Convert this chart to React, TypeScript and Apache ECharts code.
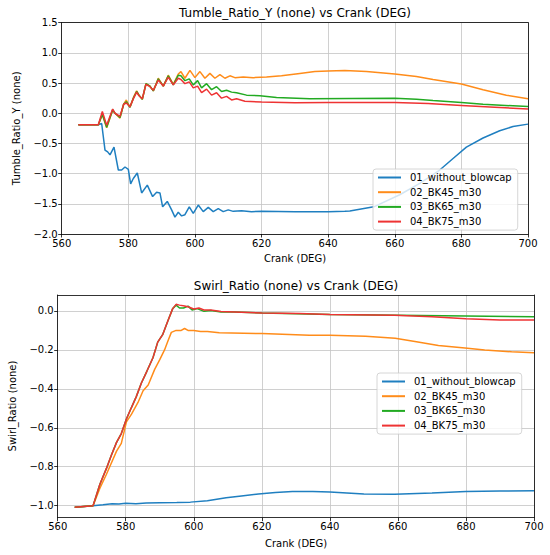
import React, { useEffect, useRef } from "react";
import * as echarts from "echarts";

const FONT = "DejaVu Sans";

const seriesNames = ["01_without_blowcap", "02_BK45_m30", "03_BK65_m30", "04_BK75_m30"];
const seriesColors = ["#1f7fc0", "#ff8c1a", "#22aa22", "#ee3333"];

const crankMin = 560;
const crankMax = 700;
const crankStep = 20;

const tumbleMin = -2.0;
const tumbleMax = 1.5;
const tumbleStep = 0.5;

const swirlMin = -1.062;
const swirlMax = 0.082;
const swirlTicks = [-1.0, -0.8, -0.6, -0.4, -0.2, 0.0];

// ---- Tumble_Ratio_Y ----
const tumbleBlueX = [565, 571, 572, 573, 573.8, 574.5, 575.7, 577, 578, 579, 580, 580.7, 581.5, 582.7, 584, 585.7, 587.3, 588.5, 589.5, 590.3, 591.7, 593, 594, 595, 596, 597, 598.3, 599.5, 601, 602.5, 604, 605.5, 607, 608.5, 610, 611.5, 614, 617, 620, 630, 640, 645, 646.5, 653.7, 661.5, 667.5, 673.5, 677.5, 681.5, 686.5, 691.5, 695.5, 700];
const tumbleBlueY = [-0.19, -0.19, -0.17, -0.61, -0.64, -0.69, -0.56, -0.94, -0.94, -0.89, -0.93, -1.17, -1.08, -0.99, -1.32, -1.19, -1.38, -1.31, -1.32, -1.55, -1.46, -1.6, -1.72, -1.64, -1.7, -1.68, -1.55, -1.66, -1.52, -1.63, -1.56, -1.63, -1.58, -1.63, -1.6, -1.625, -1.615, -1.63, -1.625, -1.63, -1.63, -1.625, -1.62, -1.55, -1.35, -1.16, -0.94, -0.75, -0.56, -0.41, -0.29, -0.22, -0.18];

const tumbleOrangeX = [565, 571, 572.2, 573.5, 575.3, 576, 577.5, 578.6, 579.4, 580.5, 581.6, 582.5, 583.2, 584.2, 585.3, 586.5, 587.5, 589, 590.5, 592, 593.5, 595, 595.8, 597, 598.5, 600, 601.5, 603, 604.5, 606, 607.5, 609, 610.5, 612, 614.5, 617.5, 621.5, 626, 631.5, 636, 640, 645, 651.5, 660, 666.5, 671.5, 680, 686.5, 693.5, 700];
const tumbleOrangeY = [-0.19, -0.19, -0.02, -0.24, 0.05, 0.0, -0.08, 0.15, 0.22, 0.1, 0.27, 0.37, 0.3, 0.23, 0.49, 0.45, 0.37, 0.58, 0.45, 0.63, 0.48, 0.65, 0.69, 0.58, 0.71, 0.59, 0.69, 0.58, 0.66, 0.58, 0.64, 0.58, 0.62, 0.59, 0.6, 0.59, 0.6, 0.62, 0.66, 0.69, 0.7, 0.71, 0.69, 0.65, 0.61, 0.56, 0.485, 0.39, 0.3, 0.24];

const tumbleGreenX = [565, 571, 572.2, 573.5, 575.3, 576, 577.5, 578.6, 579.4, 580.5, 581.6, 582.5, 583.2, 584.2, 585.3, 586.5, 587.5, 589, 590.5, 592, 593.5, 595, 595.8, 597, 598.3, 599.5, 600.8, 602, 603.5, 605, 606.5, 608, 609.5, 611, 612.5, 615.5, 619.5, 624.5, 634.5, 660, 666.5, 671.5, 680, 686.5, 700];
const tumbleGreenY = [-0.19, -0.19, -0.02, -0.23, 0.06, 0.0, -0.07, 0.15, 0.19, 0.1, 0.26, 0.36, 0.3, 0.23, 0.49, 0.45, 0.37, 0.57, 0.45, 0.62, 0.47, 0.63, 0.62, 0.54, 0.57, 0.47, 0.54, 0.42, 0.49, 0.39, 0.44, 0.36, 0.38, 0.35, 0.34, 0.3, 0.29, 0.26, 0.24, 0.25, 0.23, 0.21, 0.18, 0.15, 0.11];

const tumbleRedX = [565, 571, 572.2, 573.5, 575.3, 576, 577.5, 578.6, 579.4, 580.5, 581.6, 582.5, 583.2, 584.2, 585.3, 586.5, 587.5, 589, 590.5, 592, 593.5, 595, 595.8, 597, 598.3, 599.5, 600.8, 602, 603.5, 605, 606.5, 608, 609.5, 611, 612.5, 615, 620, 630, 640, 660, 670, 680, 690, 700];
const tumbleRedY = [-0.19, -0.19, 0.03, -0.2, 0.07, 0.0, -0.05, 0.15, 0.17, 0.11, 0.25, 0.35, 0.29, 0.24, 0.48, 0.44, 0.38, 0.55, 0.45, 0.6, 0.47, 0.58, 0.56, 0.49, 0.52, 0.42, 0.45, 0.34, 0.4, 0.3, 0.34, 0.25, 0.28, 0.22, 0.24, 0.2, 0.185, 0.175, 0.18, 0.18, 0.16, 0.13, 0.1, 0.07];

// ---- Swirl_Ratio ----
const swirlBlueX = [565, 570.4, 573.3, 576, 578, 580, 583, 586, 590, 595, 599, 604, 609.5, 614, 619, 624, 629, 635, 640, 650, 659, 670, 680, 690, 700];
const swirlBlueY = [-1.008, -1.0, -0.995, -0.99, -0.992, -0.988, -0.99, -0.986, -0.985, -0.984, -0.982, -0.975, -0.96, -0.95, -0.94, -0.933, -0.928, -0.927, -0.93, -0.94, -0.942, -0.935, -0.928, -0.925, -0.923];

const swirlOrangeX = [565, 570.4, 572.4, 574.3, 577.3, 578.7, 580.2, 581.7, 583.6, 585.1, 586.6, 588.5, 590, 591.4, 592.4, 593.4, 594.8, 596.3, 597.3, 598.3, 600, 602, 604, 607.5, 620, 634, 640, 650.5, 659.2, 665, 671.9, 679.7, 685.5, 693.4, 700];
const swirlOrangeY = [-1.008, -1.0, -0.91, -0.84, -0.72, -0.68, -0.57, -0.53, -0.47, -0.41, -0.38, -0.3, -0.25, -0.2, -0.154, -0.11, -0.1, -0.1, -0.09, -0.1, -0.1, -0.105, -0.105, -0.112, -0.116, -0.125, -0.125, -0.13, -0.14, -0.157, -0.178, -0.19, -0.2, -0.21, -0.215];

const swirlGreenX = [565, 570.4, 572.4, 574.3, 575.8, 577.3, 578.7, 580.2, 581.7, 583.1, 584.6, 586.2, 588, 589.4, 590.9, 592.4, 593.8, 594.8, 595.8, 597, 598.3, 599.5, 601, 603, 605, 608, 612, 620, 640, 660, 680, 700];
const swirlGreenY = [-1.008, -1.0, -0.89, -0.81, -0.74, -0.675, -0.63, -0.555, -0.495, -0.44, -0.37, -0.31, -0.24, -0.16, -0.12, -0.05, 0.012, 0.03, 0.015, 0.015, 0.025, 0.005, 0.012, -0.002, 0.002, -0.005, -0.005, -0.01, -0.018, -0.022, -0.026, -0.03];

const swirlRedX = [565, 570.4, 572.4, 574.3, 575.8, 577.3, 578.7, 580.2, 581.7, 583.1, 584.6, 586.2, 588, 589.4, 590.9, 592.4, 593.8, 594.8, 595.8, 597.3, 598.5, 600, 601.5, 603, 605, 608, 612, 620, 631, 640, 659, 670, 680, 690, 700];
const swirlRedY = [-1.008, -1.0, -0.89, -0.81, -0.74, -0.675, -0.63, -0.555, -0.495, -0.44, -0.37, -0.31, -0.24, -0.16, -0.12, -0.05, 0.012, 0.034, 0.03, 0.025, 0.02, 0.01, 0.015, 0.005, 0.005, -0.003, -0.005, -0.01, -0.013, -0.018, -0.022, -0.03, -0.04, -0.046, -0.047];

const tumbleXs = [tumbleBlueX, tumbleOrangeX, tumbleGreenX, tumbleRedX];
const tumbleYs = [tumbleBlueY, tumbleOrangeY, tumbleGreenY, tumbleRedY];
const swirlXs = [swirlBlueX, swirlOrangeX, swirlGreenX, swirlRedX];
const swirlYs = [swirlBlueY, swirlOrangeY, swirlGreenY, swirlRedY];

const zip = (xs: number[], ys: number[]) => xs.map((x, i) => [x, ys[i]]);
const fmt1 = (v: number) => {
  const s = Math.abs(v) < 1e-9 ? "0.0" : v.toFixed(1);
  return s.replace("-", "\u2212");
};

const GRID_COLOR = "#c4c4c4";
const AXIS_COLOR = "#000000";

function mainXAxis(gridIndex: number) {
  return {
    type: "value",
    gridIndex,
    min: crankMin,
    max: crankMax,
    interval: crankStep,
    axisLine: { show: true, onZero: false, lineStyle: { color: AXIS_COLOR, width: 0.8 } },
    axisTick: { show: true, inside: false, length: 3.5, lineStyle: { color: AXIS_COLOR, width: 0.8 } },
    axisLabel: { show: true, color: "#000", fontSize: 10, fontFamily: FONT, margin: 4 },
    splitLine: { show: true, lineStyle: { color: GRID_COLOR, width: 0.8 } },
  };
}

function spineAxis(gridIndex: number, position: string, min: number, max: number) {
  return {
    type: "value",
    gridIndex,
    position,
    min,
    max,
    axisLine: { show: true, onZero: false, lineStyle: { color: AXIS_COLOR, width: 0.8 } },
    axisTick: { show: false },
    axisLabel: { show: false },
    splitLine: { show: false },
  };
}

function legendFor(left: number, top: number) {
  return {
    orient: "vertical",
    left,
    top,
    padding: [3, 6, 3, 5],
    itemWidth: 23,
    itemHeight: 2,
    itemGap: 3.7,
    icon: "rect",
    borderColor: "#cccccc",
    borderWidth: 0.8,
    borderRadius: 3,
    backgroundColor: "rgba(255,255,255,0.8)",
    textStyle: { fontSize: 10, fontFamily: FONT, color: "#000", lineHeight: 11, padding: [0, 0, 0, 4] },
    data: seriesNames,
  };
}

function textEl(text: string, x: number, y: number, size: number, rotation = 0) {
  return {
    type: "text",
    x,
    y,
    rotation,
    silent: true,
    style: {
      text,
      fill: "#000",
      fontSize: size,
      fontFamily: FONT,
      textAlign: "center",
      textVerticalAlign: "middle",
    },
  };
}

export default function App() {
  const ref = useRef<HTMLDivElement>(null);

  useEffect(() => {
    if (!ref.current) return;
    const chart = echarts.init(ref.current, null, { renderer: "svg" });

    const series: any[] = [];
    seriesNames.forEach((name, i) => {
      series.push({
        name,
        type: "line",
        xAxisIndex: 0,
        yAxisIndex: 0,
        data: zip(tumbleXs[i], tumbleYs[i]),
        showSymbol: false,
        symbol: "none",
        lineStyle: { color: seriesColors[i], width: 1.5 },
        itemStyle: { color: seriesColors[i] },
        z: 3 + i,
      });
    });
    seriesNames.forEach((name, i) => {
      series.push({
        name,
        type: "line",
        xAxisIndex: 2,
        yAxisIndex: 2,
        data: zip(swirlXs[i], swirlYs[i]),
        showSymbol: false,
        symbol: "none",
        lineStyle: { color: seriesColors[i], width: 1.5 },
        itemStyle: { color: seriesColors[i] },
        z: 3 + i,
      });
    });

    const option: any = {
      animation: false,
      backgroundColor: "#ffffff",
      grid: [
        { left: 61.7, right: 22, top: 22.7, height: 211.3, containLabel: false },
        { left: 57.7, right: 16, top: 295, height: 222.7, containLabel: false },
      ],
      xAxis: [
        mainXAxis(0),
        spineAxis(0, "top", crankMin, crankMax),
        mainXAxis(1),
        spineAxis(1, "top", crankMin, crankMax),
      ],
      yAxis: [
        {
          type: "value",
          gridIndex: 0,
          min: tumbleMin,
          max: tumbleMax,
          interval: tumbleStep,
          axisLine: { show: true, onZero: false, lineStyle: { color: AXIS_COLOR, width: 0.8 } },
          axisTick: { show: true, inside: false, length: 3.5, lineStyle: { color: AXIS_COLOR, width: 0.8 } },
          axisLabel: { show: true, color: "#000", fontSize: 10, fontFamily: FONT, margin: 4, formatter: fmt1 },
          splitLine: { show: true, lineStyle: { color: GRID_COLOR, width: 0.8 } },
        },
        spineAxis(0, "right", tumbleMin, tumbleMax),
        {
          type: "value",
          gridIndex: 1,
          min: swirlMin,
          max: swirlMax,
          axisLine: { show: true, onZero: false, lineStyle: { color: AXIS_COLOR, width: 0.8 } },
          axisTick: {
            show: true,
            inside: false,
            length: 3.5,
            customValues: swirlTicks,
            lineStyle: { color: AXIS_COLOR, width: 0.8 },
          },
          axisLabel: {
            show: true,
            color: "#000",
            fontSize: 10,
            fontFamily: FONT,
            margin: 4,
            customValues: swirlTicks,
            formatter: fmt1,
          },
          splitLine: { show: true, lineStyle: { color: GRID_COLOR, width: 0.8 } },
        },
        spineAxis(1, "right", swirlMin, swirlMax),
      ],
      legend: [legendFor(373, 169), legendFor(377, 373)],
      graphic: [
        textEl("Tumble_Ratio_Y (none) vs Crank (DEG)", 295, 13, 12),
        textEl("Crank (DEG)", 295, 258, 10),
        textEl("Tumble_Ratio_Y (none)", 16, 128.3, 10, Math.PI / 2),
        textEl("Swirl_Ratio (none) vs Crank (DEG)", 296, 286, 12),
        textEl("Crank (DEG)", 296, 543, 10),
        textEl("Swirl_Ratio (none)", 12, 406, 10, Math.PI / 2),
      ],
      series,
    };

    chart.setOption(option);
    return () => {
      chart.dispose();
    };
  }, []);

  return (
    <div
      ref={ref}
      style={{ position: "absolute", left: 0, top: 0, width: 550, height: 555, background: "#fff" }}
    />
  );
}
